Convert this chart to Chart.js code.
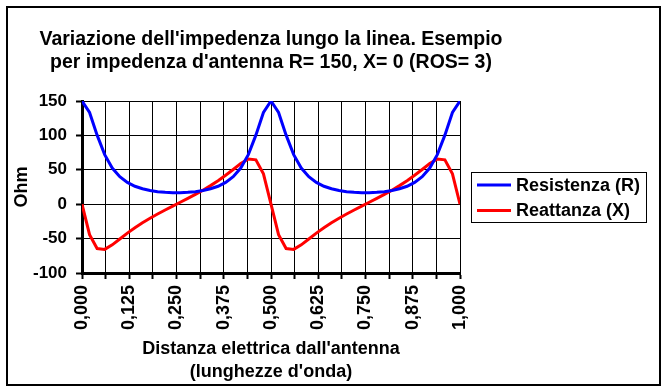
<!DOCTYPE html>
<html lang="it">
<head>
<meta charset="UTF-8">
<title>Impedenza lungo la linea</title>
<script src="https://cdn.jsdelivr.net/npm/chart.js"></script>
<style>
  body { margin: 0; background: #fff; }
  #grafico { display: block; }
</style>
</head>
<body>
<canvas id="grafico" width="667" height="392"></canvas>
<script>
// distanza elettrica dall'antenna (lunghezze d'onda)
const distanza = [0.00, 0.02, 0.04, 0.06, 0.08, 0.10, 0.12, 0.14, 0.16, 0.18,
                  0.20, 0.22, 0.24, 0.26, 0.28, 0.30, 0.32, 0.34, 0.36, 0.38,
                  0.40, 0.42, 0.44, 0.46, 0.48, 0.50, 0.52, 0.54, 0.56, 0.58,
                  0.60, 0.62, 0.64, 0.66, 0.68, 0.70, 0.72, 0.74, 0.76, 0.78,
                  0.80, 0.82, 0.84, 0.86, 0.88, 0.90, 0.92, 0.94, 0.96, 0.98, 1.00];
const resistenza = [150, 133.3, 100.4, 72.0, 52.5, 39.9, 31.6, 26.1, 22.4, 19.9,
                    18.2, 17.2, 16.7, 16.7, 17.2, 18.2, 19.9, 22.4, 26.1, 31.6,
                    39.9, 52.5, 72.0, 100.4, 133.3, 150, 133.3, 100.4, 72.0, 52.5,
                    39.9, 31.6, 26.1, 22.4, 19.9, 18.2, 17.2, 16.7, 16.7, 17.2,
                    18.2, 19.9, 22.4, 26.1, 31.6, 39.9, 52.5, 72.0, 100.4, 133.3, 150];
const reattanza = [0, -44.2, -64.5, -65.7, -59.1, -50.5, -42.0, -34.2, -27.0, -20.4,
                   -14.3, -8.4, -2.8, 2.8, 8.4, 14.3, 20.4, 27.0, 34.2, 42.0,
                   50.5, 59.1, 65.7, 64.5, 44.2, 0, -44.2, -64.5, -65.7, -59.1,
                   -50.5, -42.0, -34.2, -27.0, -20.4, -14.3, -8.4, -2.8, 2.8, 8.4,
                   14.3, 20.4, 27.0, 34.2, 42.0, 50.5, 59.1, 65.7, 64.5, 44.2, 0];
const nomiSerie = ['Resistenza (R)', 'Reattanza (X)'];
const coloriSerie = ['#0000ff', '#ff0000'];
const titolo = ["Variazione dell'impedenza lungo la linea. Esempio",
                "per impedenza d'antenna R= 150, X= 0 (ROS= 3)"];
const titoloX = ["Distanza elettrica dall'antenna", "(lunghezze d'onda)"];
const titoloY = 'Ohm';

const FONT = "'Liberation Sans', Arial, sans-serif";

const punti = (valori) => distanza.map((d, i) => ({ x: d, y: valori[i] }));

// cornice esterna, sfondo bianco e titolo centrato sull'area del grafico
const cornice = {
  id: 'cornice',
  beforeDraw(chart) {
    const c = chart.ctx;
    const a = chart.chartArea;
    c.save();
    c.fillStyle = '#fff';
    c.fillRect(0, 0, chart.width, chart.height);
    c.strokeStyle = '#000';
    c.lineWidth = 2;
    c.strokeRect(7, 7, 653, 378);
    c.fillStyle = '#000';
    c.font = 'bold 19.5px ' + FONT;
    c.textAlign = 'center';
    c.textBaseline = 'middle';
    titolo.forEach((riga, i) => c.fillText(riga, (a.left + a.right) / 2, 40 + i * 23));
    c.restore();
  }
};

// legenda con il riquadro, come in Excel
const legenda = {
  id: 'legenda',
  afterDraw(chart) {
    const c = chart.ctx;
    c.save();
    c.strokeStyle = '#000';
    c.lineWidth = 1;
    c.strokeRect(471.5, 172.5, 175, 50);
    c.font = 'bold 18px ' + FONT;
    c.textBaseline = 'middle';
    c.fillStyle = '#000';
    chart.data.datasets.forEach((ds, i) => {
      const y = 185 + i * 25.5;
      c.strokeStyle = ds.borderColor;
      c.lineWidth = 3;
      c.beginPath();
      c.moveTo(477, y);
      c.lineTo(511, y);
      c.stroke();
      c.fillText(ds.label, 516, y + 1);
    });
    c.restore();
  }
};

const ctx = document.getElementById('grafico');
const grafico = new Chart(ctx, {
  type: 'line',
  data: {
    datasets: [
      { label: nomiSerie[0], data: punti(resistenza), borderColor: coloriSerie[0], borderWidth: 3, pointRadius: 0, tension: 0 },
      { label: nomiSerie[1], data: punti(reattanza), borderColor: coloriSerie[1], borderWidth: 3, pointRadius: 0, tension: 0 }
    ]
  },
  options: {
    responsive: false,
    animation: false,
    layout: { padding: { left: 7, right: 207, top: 101, bottom: 8 } },
    plugins: {
      legend: { display: false },
      tooltip: { enabled: false },
      title: { display: false }
    },
    scales: {
      x: {
        type: 'linear',
        min: 0,
        max: 1,
        afterFit(scale) { scale.height = 111; },
        ticks: {
          stepSize: 0.0625,
          autoSkip: false,
          minRotation: 90,
          maxRotation: 90,
          padding: 6,
          color: '#000',
          font: { family: FONT, size: 18, weight: 'bold' },
          callback: (v) => (Math.round(v * 1000) % 125 === 0) ? v.toFixed(3).replace('.', ',') : ''
        },
        grid: { color: '#000', lineWidth: 1, tickLength: 6, tickColor: '#000', tickWidth: 2 },
        border: { color: '#000', width: 3 },
        title: {
          display: true,
          text: titoloX,
          color: '#000',
          font: { family: FONT, size: 18, weight: 'bold', lineHeight: 1.3 },
          padding: { top: 0, bottom: 0 }
        }
      },
      y: {
        min: -100,
        max: 150,
        afterFit(scale) { scale.width = 75; },
        ticks: {
          stepSize: 50,
          padding: 9,
          color: '#000',
          font: { family: FONT, size: 17, weight: 'bold' }
        },
        grid: { color: '#000', lineWidth: 1, tickLength: 6, tickColor: '#000', tickWidth: 2 },
        border: { color: '#000', width: 3 },
        title: {
          display: true,
          text: titoloY,
          color: '#000',
          font: { family: FONT, size: 18, weight: 'bold', lineHeight: 1.2 },
          padding: { top: 4, bottom: 0 }
        }
      }
    }
  },
  plugins: [cornice, legenda]
});
</script>
</body>
</html>
